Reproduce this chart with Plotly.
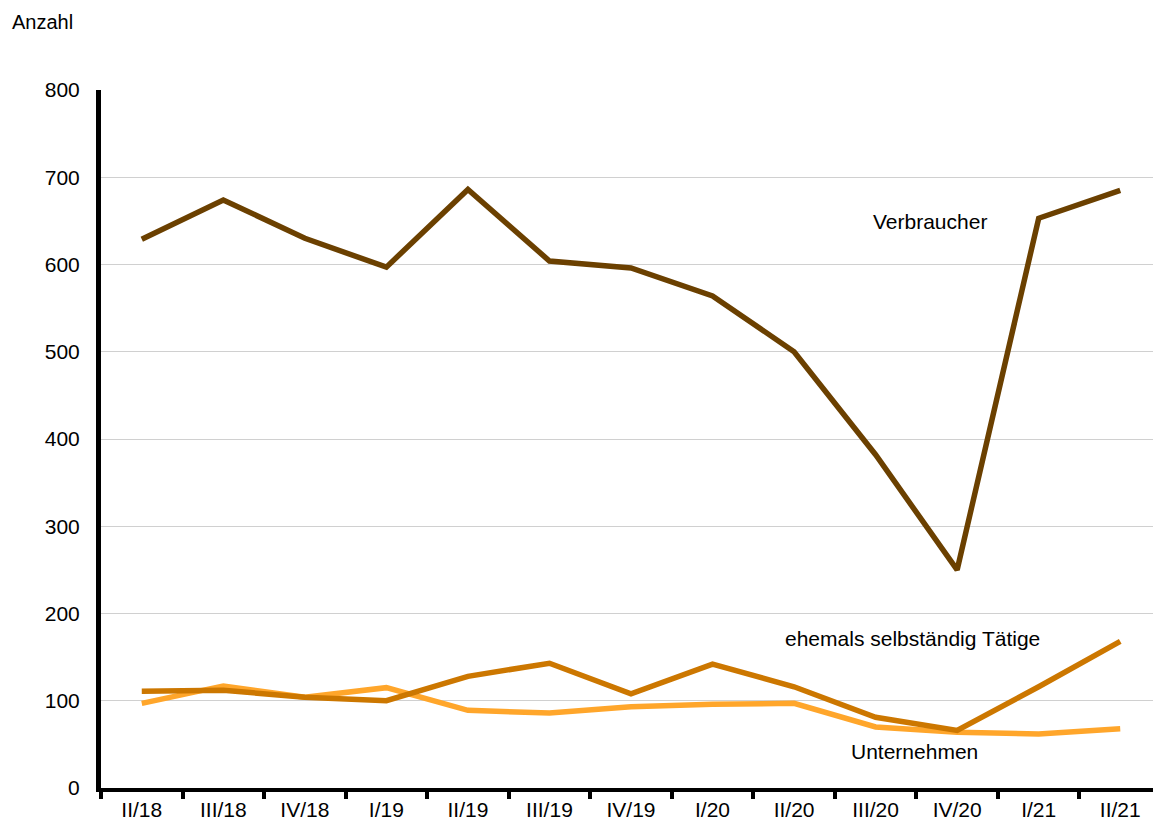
import plotly.graph_objects as go

categories = ["II/18", "III/18", "IV/18", "I/19", "II/19", "III/19", "IV/19",
              "I/20", "II/20", "III/20", "IV/20", "I/21", "II/21"]
verbraucher = [629, 674, 630, 597, 686, 604, 596, 564, 500, 382, 250, 653, 685]
ehemals = [111, 112, 104, 100, 128, 143, 108, 142, 116, 81, 66, 116, 168]
unternehmen = [97, 117, 104, 115, 89, 86, 93, 96, 97, 70, 64, 62, 68]
y_ticks = [0, 100, 200, 300, 400, 500, 600, 700, 800]

font = "Liberation Sans, Arial, sans-serif"
FS = 21

W, H = 1153, 815
L, T, B, R = 93, 82, 35, 0
pw, ph = W - L - R, H - T - B

fig = go.Figure()
fig.add_trace(go.Scatter(x=categories, y=unternehmen, mode="lines",
                         line=dict(color="#FFA62B", width=5.5), name="Unternehmen"))
fig.add_trace(go.Scatter(x=categories, y=ehemals, mode="lines",
                         line=dict(color="#CC7700", width=5.5), name="ehemals selbständig Tätige"))
fig.add_trace(go.Scatter(x=categories, y=verbraucher, mode="lines",
                         line=dict(color="#6B4000", width=5.5), name="Verbraucher"))

fig.update_layout(
    width=W, height=H,
    margin=dict(l=L, r=R, t=T, b=B),
    paper_bgcolor="white", plot_bgcolor="white",
    showlegend=False,
    font=dict(family=font, size=FS, color="black"),
    xaxis=dict(
        type="category", showgrid=False, showline=True, linecolor="black", linewidth=4,
        ticks="outside", tickson="boundaries", ticklen=7, tickwidth=4, tickcolor="black",
        range=[-0.5, 12.5], tickfont=dict(size=FS),
    ),
    yaxis=dict(
        range=[0, 800], tickvals=y_ticks, showgrid=True, gridcolor="#d0d0d0", gridwidth=1,
        showline=True, linecolor="black", linewidth=5, zeroline=False,
        ticks="", tickfont=dict(size=FS), ticklabelstandoff=12,
    ),
    annotations=[
        dict(text="Anzahl", xref="paper", yref="paper", x=(2 - L) / pw, y=1 + (T - 1) / ph,
             xanchor="left", yanchor="top", showarrow=False, font=dict(size=20)),
        dict(text="Verbraucher", x=9.67, y=649, xref="x", yref="y",
             xanchor="center", yanchor="middle", showarrow=False, font=dict(size=FS)),
        dict(text="ehemals selbständig Tätige", x=9.45, y=171, xref="x", yref="y",
             xanchor="center", yanchor="middle", showarrow=False, font=dict(size=FS)),
        dict(text="Unternehmen", x=9.48, y=42, xref="x", yref="y",
             xanchor="center", yanchor="middle", showarrow=False, font=dict(size=FS)),
    ],
)

fig.write_html("out.html")
